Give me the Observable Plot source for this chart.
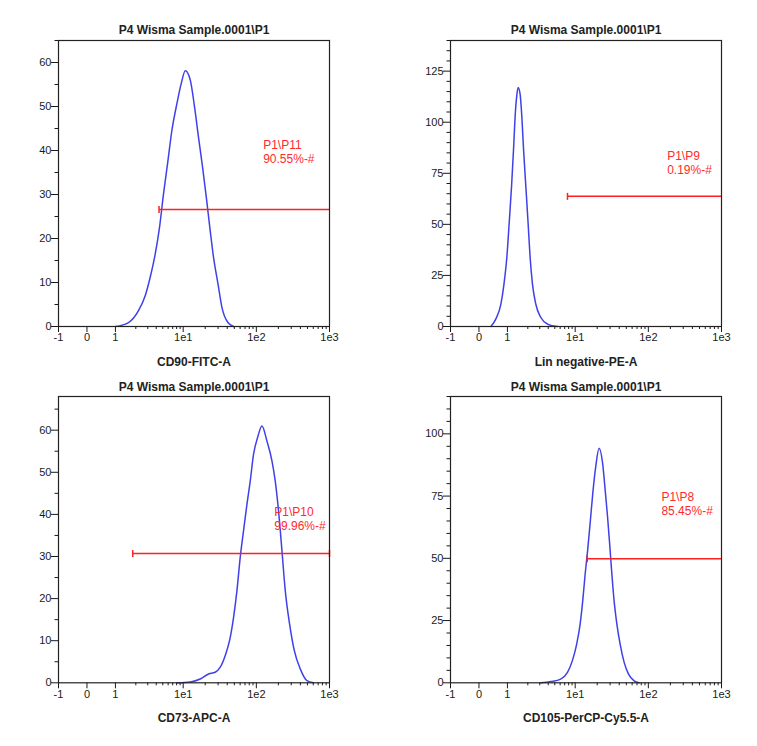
<!DOCTYPE html>
<html><head><meta charset="utf-8">
<script src="https://cdn.jsdelivr.net/npm/d3@7"></script>
<script src="https://cdn.jsdelivr.net/npm/@observablehq/plot@0.6"></script>
<style>
body{margin:0;background:#fff;}
#wrap{position:relative;width:757px;height:746px;overflow:hidden;font-family:"Liberation Sans",Arial,sans-serif;background:#fff;}
.panel{position:absolute;}
</style></head><body><div id="wrap"></div>
<script>
// ---- data ----
const titles = ["P4 Wisma Sample.0001\\P1","P4 Wisma Sample.0001\\P1","P4 Wisma Sample.0001\\P1","P4 Wisma Sample.0001\\P1"];
const xLabels = ["CD90-FITC-A","Lin negative-PE-A","CD73-APC-A","CD105-PerCP-Cy5.5-A"];
const xTickValues = [-1,0,1,10,100,1000];
const xTickLabels = ["-1","0","1","1e1","1e2","1e3"];
const xMinorValues = [2,3,4,5,6,7,8,9,20,30,40,50,60,70,80,90,200,300,400,500,600,700,800,900];
const yMax = [65,140,68,115];
const yMajorStep = [10,25,10,25];
const yMajorMax = [60,125,60,100];
const yMinorStep = [5,5,5,5];

// CD90-FITC-A
const p1X = [1.0,1.56,2.19,2.75,3.26,3.87,4.48,5.13,5.96,6.82,8.09,9.35,10.7,12.5,14.3,16.2,18.4,20.7,23.4,26.0,29.9,33.9,40.9,48.8];
const p1Y = [0,0.9,3.6,7.0,11.2,16.5,22.6,30.2,37.7,44.6,50.7,55.2,58.1,56,49.9,43,36.2,29.4,21.8,15.7,9.7,4.3,0.9,0];
// Lin negative-PE-A
const p2X = [0.42,0.59,0.77,0.88,0.98,1.06,1.15,1.23,1.30,1.38,1.44,1.54,1.63,1.73,1.87,2.02,2.16,2.34,2.62,3.11,3.91,5.49];
const p2Y = [0,3.6,11.0,20.9,34.0,50.4,68.5,86.6,103,113.6,117,113.6,103,86.6,68.5,50.4,34,20.9,11,4.4,1.2,0];
// CD73-APC-A
const p3X = [8.1,12.5,17.1,22.2,27.4,32.1,37.6,43.0,48.8,54.3,60.2,66.8,74.4,82.5,91.6,103.8,119.3,139.7,163.4,181.3,201.2,223.9,248.5,284.5,329.9,398.5,491.8,605.6];
const p3Y = [0,0.2,0.9,2.1,2.5,3.7,6.5,10,15.5,21.9,29.8,36.1,42.4,47.9,54.3,58.2,61,57.4,52.7,47.9,40.8,31.4,21.9,14,7.7,3.3,0.5,0];
// CD105-PerCP-Cy5.5-A
const p4X = [3.1,4.4,6.1,7.7,9.1,10.5,11.7,12.7,13.7,14.8,16.0,17.4,19.1,21.2,23.7,25.7,27.7,29.8,31.7,34.0,37.1,41.1,46.7,53.6,63.9,74.8];
const p4Y = [0,0.5,1.5,4.2,8.9,15.6,23.7,33.1,43.8,53.2,64,76.1,86.8,94.2,88.2,77.4,66.7,54.6,43.8,33.1,23.7,15.6,8.2,3.5,0.8,0];

const gateNames = ["P1\\P11","P1\\P9","P1\\P10","P1\\P8"];
const gatePct = ["90.55%-#","0.19%-#","99.96%-#","85.45%-#"];
const gateX1 = [4.4,7.7,1.8,14.6];
const gateX2 = [1000,1000,1000,1000];
const gateY = [26.6,63.7,30.7,49.8];
const gateRightCap = [false,false,true,false];
const labelX = [124,181,176,151];
const labelY = [42.6,86.2,42.0,76.9];

const seriesX = [p1X,p2X,p3X,p4X];
const seriesY = [p1Y,p2Y,p3Y,p4Y];

// ---- biexponential-like display transform ----
function T(v){
  if (v <= 1) return v;
  if (v <= 10) return 1 + 2.38*Math.log10(v);
  return 3.38 + 2.57*Math.log10(v/10);
}

const layout = [
  {left:0,   top:0,   w:378, ml:58, mr:49, h:370, mt:40, mb:44, titleDy:-10},
  {left:378, top:0,   w:379, ml:72, mr:36, h:370, mt:40, mb:44, titleDy:-10},
  {left:0,   top:370, w:378, ml:58, mr:49, h:376, mt:26, mb:63.7, titleDy:-9.5},
  {left:378, top:370, w:379, ml:72, mr:36, h:376, mt:26, mb:63.7, titleDy:-9.5}
];

const barSymbol = {draw(ctx, size){ const h = Math.sqrt(size/Math.PI); ctx.moveTo(0,-h); ctx.lineTo(0,h); }};
const labelMap = new Map(xTickValues.map((v,i)=>[T(v), xTickLabels[i]]));

const wrap = document.getElementById("wrap");
for (let k = 0; k < 4; k++) {
  const L = layout[k];
  const pts = seriesX[k].map((x,i)=>({x, y: seriesY[k][i]}));
  const yMajor = d3.range(0, yMajorMax[k] + 0.001, yMajorStep[k]);
  const yMinor = d3.range(0, yMax[k] + 0.001, yMinorStep[k]).filter(v => v % yMajorStep[k] !== 0);
  const gate = [{x1: gateX1[k], x2: gateX2[k], y: gateY[k]}];
  const caps = [{x: gateX1[k], y: gateY[k]}].concat(gateRightCap[k] ? [{x: gateX2[k], y: gateY[k]}] : []);
  const chart = Plot.plot({
    width: L.w, height: L.h,
    marginLeft: L.ml, marginRight: L.mr, marginTop: L.mt, marginBottom: L.mb,
    style: {fontFamily: '"Liberation Sans", Arial, sans-serif', fontSize: "11px", color: "#1a1a1a", background: "transparent", overflow: "visible"},
    x: {domain: [T(-1), T(1000)]},
    y: {domain: [0, yMax[k]]},
    marks: [
      Plot.axisX(xTickValues.map(T), {tickSize: 6, tickPadding: 1, tickFormat: d => labelMap.get(d), label: null}),
      Plot.axisX(xMinorValues.map(T), {tickSize: 3, tickFormat: () => "", label: null}),
      Plot.axisY(yMajor, {tickSize: 7, tickPadding: 0, label: null}),
      Plot.axisY(yMinor, {tickSize: 3.5, tickFormat: () => "", label: null}),
      Plot.line(pts, {x: d => T(d.x), y: "y", curve: "monotone-x", stroke: "#2b2be6", strokeWidth: 1.5, strokeOpacity: 0.9}),
      Plot.link(gate, {x1: d => T(d.x1), x2: d => T(d.x2), y1: "y", y2: "y", stroke: "#ff2020", strokeWidth: 1.5}),
      Plot.dot(caps, {x: d => T(d.x), y: "y", symbol: barSymbol, r: 3.5, stroke: "#ff2020", strokeWidth: 1.5, fill: "none"}),
      Plot.text([gateNames[k] + "\n" + gatePct[k]], {x: T(labelX[k]), y: labelY[k], text: d => d, textAnchor: "start", lineAnchor: "top", fontSize: 12, fill: "#ff2a2a", lineHeight: 1.17}),
      Plot.frame({stroke: "#222", strokeWidth: 1.2}),
      Plot.text([titles[k]], {frameAnchor: "top", dy: L.titleDy, lineAnchor: "middle", text: d => d, fontSize: 12, fontWeight: "bold", fill: "#222"}),
      Plot.text([xLabels[k]], {frameAnchor: "bottom", dy: 35.5, lineAnchor: "middle", text: d => d, fontSize: 12, fontWeight: "bold", fill: "#222"})
    ]
  });
  const div = document.createElement("div");
  div.className = "panel";
  div.style.left = L.left + "px";
  div.style.top = L.top + "px";
  div.appendChild(chart);
  wrap.appendChild(div);
}
</script>
</body></html>
